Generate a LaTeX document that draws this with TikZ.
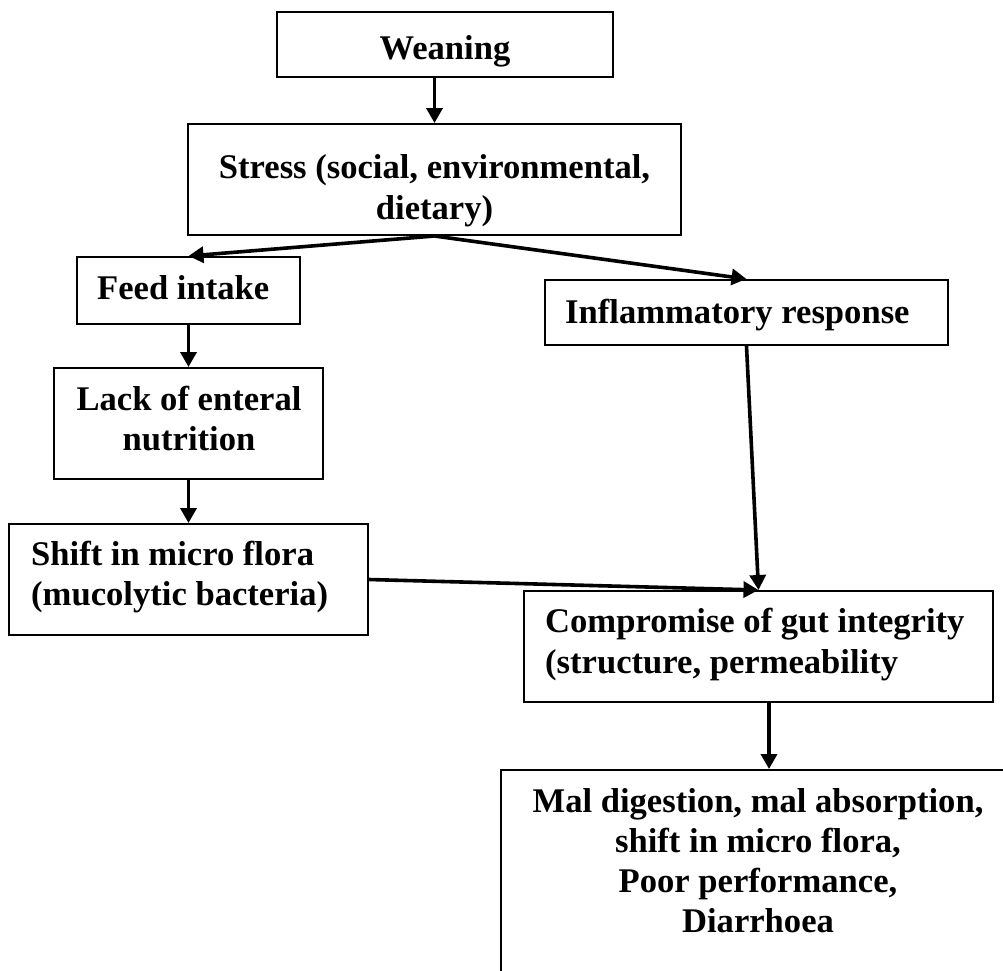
\documentclass[tikz,border=0pt]{standalone}
\usepackage{fontspec}
\setmainfont{Liberation Serif}
\usetikzlibrary{arrows.meta}
\begin{document}
\begin{tikzpicture}[x=1pt,y=-1pt,
  boxst/.style={draw=black, line width=2pt, rectangle, inner sep=0pt},
  txt/.style={inner sep=0pt, text=black, font=\fontsize{34.6}{40}\selectfont\bfseries},
  arr/.style={draw=black, line width=3.6pt, -{Triangle[width=16pt,length=15pt]}}]
\useasboundingbox[fill=white] (0,0) rectangle (1003,970);
\clip (0,0) rectangle (1003,970);
% boxes
\node[boxst, minimum width=336, minimum height=65]  (wean)   at (445,44.5) {};
\node[boxst, minimum width=493, minimum height=111] (stress) at (434.5,179.5) {};
\node[boxst, minimum width=223, minimum height=67]  (feed)   at (188.5,290.5) {};
\node[boxst, minimum width=403, minimum height=65]  (inflam) at (746.5,312.5) {};
\node[boxst, minimum width=269, minimum height=111] (lack)   at (188.5,423.5) {};
\node[boxst, minimum width=359, minimum height=111] (shift)  at (188.5,579.5) {};
\node[boxst, minimum width=469, minimum height=111] (compro) at (758.5,646.5) {};
\node[boxst, minimum width=519, minimum height=220] (mal)    at (760.5,880) {};
% texts
\node[txt, anchor=base] (twean) at (445,59) {Weaning};
\node[txt, anchor=base] (tstress1) at (434.5,178) {Stress (social, environmental,};
\node[txt, anchor=base] (tstress2) at (434.5,219) {dietary)};
\node[txt, anchor=base west] (tfeed) at (97,299) {Feed intake};
\node[txt, anchor=base] (tlack1) at (189,410) {Lack of enteral};
\node[txt, anchor=base] (tlack2) at (189,450) {nutrition};
\node[txt, anchor=base west] (tshift1) at (31,565) {Shift in micro flora};
\node[txt, anchor=base west] (tshift2) at (31,605) {(mucolytic bacteria)};
\node[txt, anchor=base west] (tinflam) at (565,323) {Inflammatory response};
\node[txt, anchor=base west] (tcompro1) at (545,632) {Compromise of gut integrity};
\node[txt, anchor=base west] (tcompro2) at (545,673) {(structure, permeability};
\node[txt, anchor=base] (tmal1) at (758,812) {Mal digestion, mal absorption,};
\node[txt, anchor=base] (tmal2) at (758,852) {shift in micro flora,};
\node[txt, anchor=base] (tmal3) at (758,892) {Poor performance,};
\node[txt, anchor=base] (tmal4) at (758,932) {Diarrhoea};
% arrows
\draw[arr] (wean.south -| stress.north) -- (stress.north);
\draw[arr] (stress.south) -- (feed.north);
\draw[arr] (stress.south) -- (inflam.north);
\draw[arr] (feed.south) -- (lack.north);
\draw[arr] (lack.south) -- (shift.north);
\draw[arr] (inflam.south) -- (compro.north);
\draw[arr] (shift.east) -- (compro.north);
\draw[arr] ([xshift=10.5pt]compro.south) -- ([xshift=10.5pt]compro.south |- mal.north);
\end{tikzpicture}
\end{document}
